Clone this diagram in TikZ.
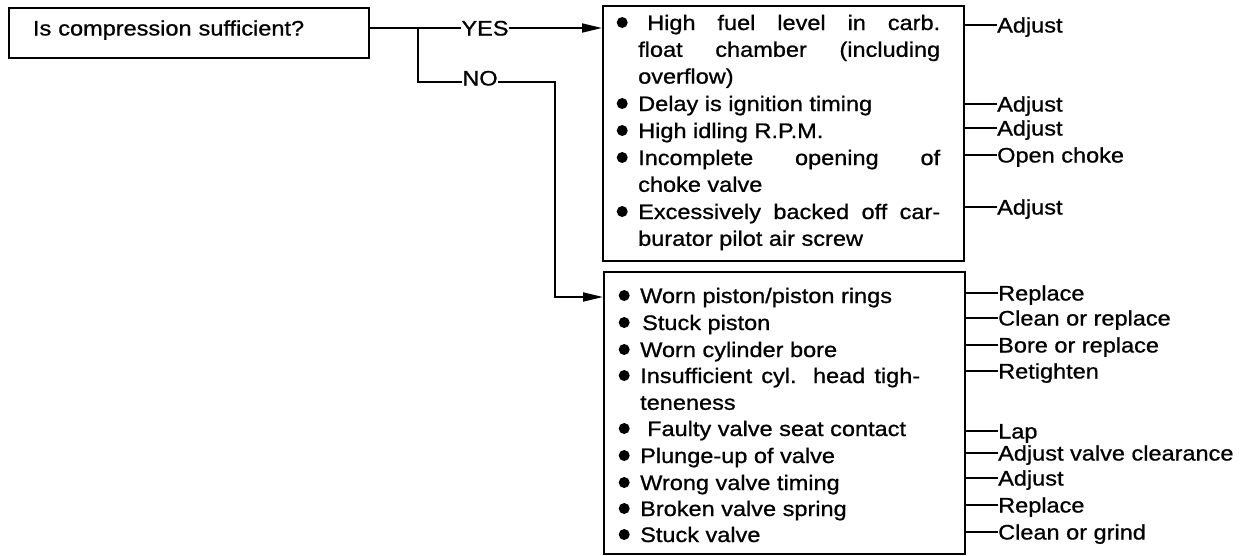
\documentclass[tikz,border=0pt]{standalone}
\usepackage{fontspec}
\setmainfont{Liberation Sans}[FakeStretch=1.12,FakeBold=0.9]
\usetikzlibrary{arrows.meta}
\newcommand{\bigfont}{\fontsize{21}{26.8}\selectfont\hyphenpenalty=10000\exhyphenpenalty=10000}
\newcommand{\bul}{\makebox[0pt][r]{\tikz[baseline=0pt]\fill (0pt,7.5pt) circle (5.5pt);\hspace{10.5pt}}}
\tikzset{
  ln/.style={line width=1.8pt},
  arr/.style={-{Triangle[length=20pt,width=9pt]}},
  frame/.style={draw, line width=2pt, anchor=north west, inner sep=0pt},
  qbox/.style={draw, line width=2pt, anchor=north west, minimum height=50pt,
    text width=312pt, inner xsep=24pt, inner ysep=0pt, text height=15pt, text depth=10pt,
    align=left, font=\bigfont},
  itm/.style={anchor=base west, inner sep=0pt, text width=310pt, align=justify, font=\bigfont},
  lab/.style={anchor=west, inner sep=0pt, text height=15pt, text depth=0pt, font=\bigfont},
  yn/.style={inner sep=0pt, text height=15pt, text depth=0pt, font=\bigfont},
}
\begin{document}
\begin{tikzpicture}[x=1pt,y=-1pt]
\path[use as bounding box] (0,0) rectangle (1243,555);

% question
\node[qbox] (q) at (8,7) {Is compression sufficient?};
\node[yn] (yes) at (485,28) {YES};
\node[yn] (no) at (480,78) {NO};

% boxes
\node[frame, minimum width=361pt, minimum height=255pt] (b1) at (602,5) {};
\node[frame, minimum width=361pt, minimum height=282pt] (b2) at (603,271) {};

% top items
\node[itm, text width=302pt] (t1) at (638,30) {\bul\hspace{9pt}High fuel level in carb.\linebreak float chamber (including\linebreak overflow)};
\node[itm] (t2) at (638,111) {\bul Delay is ignition timing};
\node[itm] (t3) at (638,138) {\bul High idling R.P.M.};
\node[itm, text width=302pt] (t4) at (638,165) {\bul Incomplete opening of\linebreak choke valve};
\node[itm, text width=302pt] (t5) at (638,219) {\bul Excessively backed off car-\linebreak burator pilot air screw};

% bottom items
\node[itm] (u1) at (640,303) {\bul Worn piston/piston rings};
\node[itm] (u2) at (640,330) {\bul\hspace{2pt}Stuck piston};
\node[itm] (u3) at (640,357) {\bul Worn cylinder bore};
\node[itm, text width=280pt] (u4) at (640,383) {\bul Insufficient cyl. head tigh-\linebreak teneness};
\node[itm] (u5) at (640,436) {\bul\hspace{7pt}Faulty valve seat contact};
\node[itm] (u6) at (640,463) {\bul Plunge-up of valve};
\node[itm] (u7) at (640,490) {\bul Wrong valve timing};
\node[itm] (u8) at (640,516) {\bul Broken valve spring};
\node[itm] (u9) at (640,542) {\bul Stuck valve};

% top labels
\node[lab] (a1) at (997,25) {Adjust};
\node[lab] (a2) at (997,104) {Adjust};
\node[lab] (a3) at (997,128) {Adjust};
\node[lab] (a4) at (997,155) {Open choke};
\node[lab] (a5) at (997,207) {Adjust};

% bottom labels
\node[lab] (r1) at (998,293) {Replace};
\node[lab] (r2) at (998,318) {Clean or replace};
\node[lab] (r3) at (998,345) {Bore or replace};
\node[lab] (r4) at (998,371) {Retighten};
\node[lab] (r5) at (998,431) {Lap};
\node[lab] (r6) at (998,453) {Adjust valve clearance};
\node[lab] (r7) at (998,478) {Adjust};
\node[lab] (r8) at (998,505) {Replace};
\node[lab] (r9) at (998,532) {Clean or grind};

% connectors
\coordinate (br) at (418,28);
\coordinate (nb) at (418,82);
\coordinate (nt) at (555,82);
\coordinate (na) at (555,297);
\draw[ln] (q.east |- br) -- (br) -- (yes.west);
\draw[ln] (br) -- (nb) -- (no.west |- nb);
\draw[ln,arr] (yes.east) -- (b1.west |- yes.east);
\draw[ln,arr] (no.east |- nb) -- (nt) -- (na) -- (b2.west |- na);

\foreach \n in {a1,a2,a3,a4,a5}{\draw[ln] (\n.west) -- (\n.west -| b1.east);}
\foreach \n in {r1,r2,r3,r4,r5,r6,r7,r8,r9}{\draw[ln] (\n.west) -- (\n.west -| b2.east);}
\end{tikzpicture}
\end{document}
